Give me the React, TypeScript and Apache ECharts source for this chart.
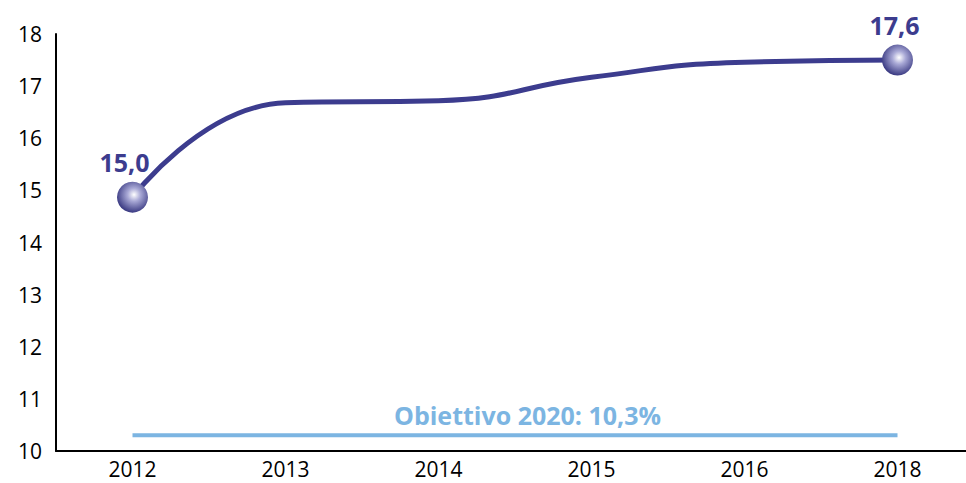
import React, { useEffect, useRef } from "react";
import * as echarts from "echarts";

const categories = ["2012", "2013", "2014", "2015", "2016", "2018"];
const values = [14.87, 16.68, 16.72, 17.17, 17.46, 17.5];
const valueLabels = ["15,0", "", "", "", "", "17,6"];
const targetValue = 10.3;
const targetLabel = "Obiettivo 2020: 10,3%";
const yTicks = { min: 10, max: 18, interval: 1 };

const MAIN = "#3c3c8e";
const TARGET = "#7cb5e2";
const FONT = "'Open Sans', Lato, sans-serif";

export default function App() {
  const ref = useRef<HTMLDivElement>(null);
  useEffect(() => {
    if (!ref.current) return;
    const chart = echarts.init(ref.current, null, { renderer: "svg" });
    const ball = {
      type: "radial",
      x: 0.55,
      y: 0.42,
      r: 0.6,
      colorStops: [
        { offset: 0, color: "#ffffff" },
        { offset: 0.35, color: "#a9a9d6" },
        { offset: 1, color: "#34347e" },
      ],
    };
    const lineData = values.map((v, i) => {
      const isEnd = i === 0 || i === values.length - 1;
      return {
        value: v,
        symbol: isEnd ? "circle" : "none",
        symbolSize: 31,
        itemStyle: { color: ball as any },
        label: {
          show: isEnd,
          formatter: valueLabels[i],
          position: "top",
          distance: 7,
          offset: i === 0 ? [-8, 0] : [-3, 0],
          color: MAIN,
          fontSize: 25,
          fontWeight: "bold",
          fontFamily: FONT,
        },
      };
    });
    chart.setOption({
      animation: false,
      grid: {
        left: 56,
        width: 918,
        top: 34,
        bottom: 32,
        containLabel: false,
        outerBoundsMode: "none",
      },
      xAxis: {
        type: "category",
        data: categories,
        boundaryGap: true,
        axisLine: { lineStyle: { color: "#000", width: 2 } },
        axisTick: { show: false },
        axisLabel: { color: "#000", fontSize: 21, fontFamily: FONT, margin: 7 },
      },
      yAxis: {
        type: "value",
        min: yTicks.min,
        max: yTicks.max,
        interval: yTicks.interval,
        axisLine: { show: true, lineStyle: { color: "#000", width: 2 } },
        axisTick: { show: false },
        splitLine: { show: false },
        axisLabel: { color: "#000", fontSize: 21, fontFamily: FONT, margin: 14 },
      },
      series: [
        {
          type: "line",
          data: categories.map(() => targetValue),
          symbol: "none",
          lineStyle: { color: TARGET, width: 4 },
          z: 1,
          markPoint: {
            symbol: "rect",
            symbolSize: 1,
            itemStyle: { color: "transparent" },
            data: [
              {
                coord: [2, targetValue],
                label: {
                  show: true,
                  formatter: targetLabel,
                  position: "top",
                  distance: 7,
                  offset: [89, 0],
                  color: TARGET,
                  fontSize: 25,
                  fontWeight: "bold",
                  fontFamily: FONT,
                },
              },
            ],
          },
        },
        {
          type: "line",
          data: lineData,
          smooth: 0.5,
          lineStyle: { color: MAIN, width: 5 },
          itemStyle: { color: ball as any },
          z: 3,
        },
      ],
    });
    return () => chart.dispose();
  }, []);
  return (
    <div
      ref={ref}
      style={{ position: "fixed", left: 0, top: 0, width: 966, height: 483, background: "#fff" }}
    />
  );
}
